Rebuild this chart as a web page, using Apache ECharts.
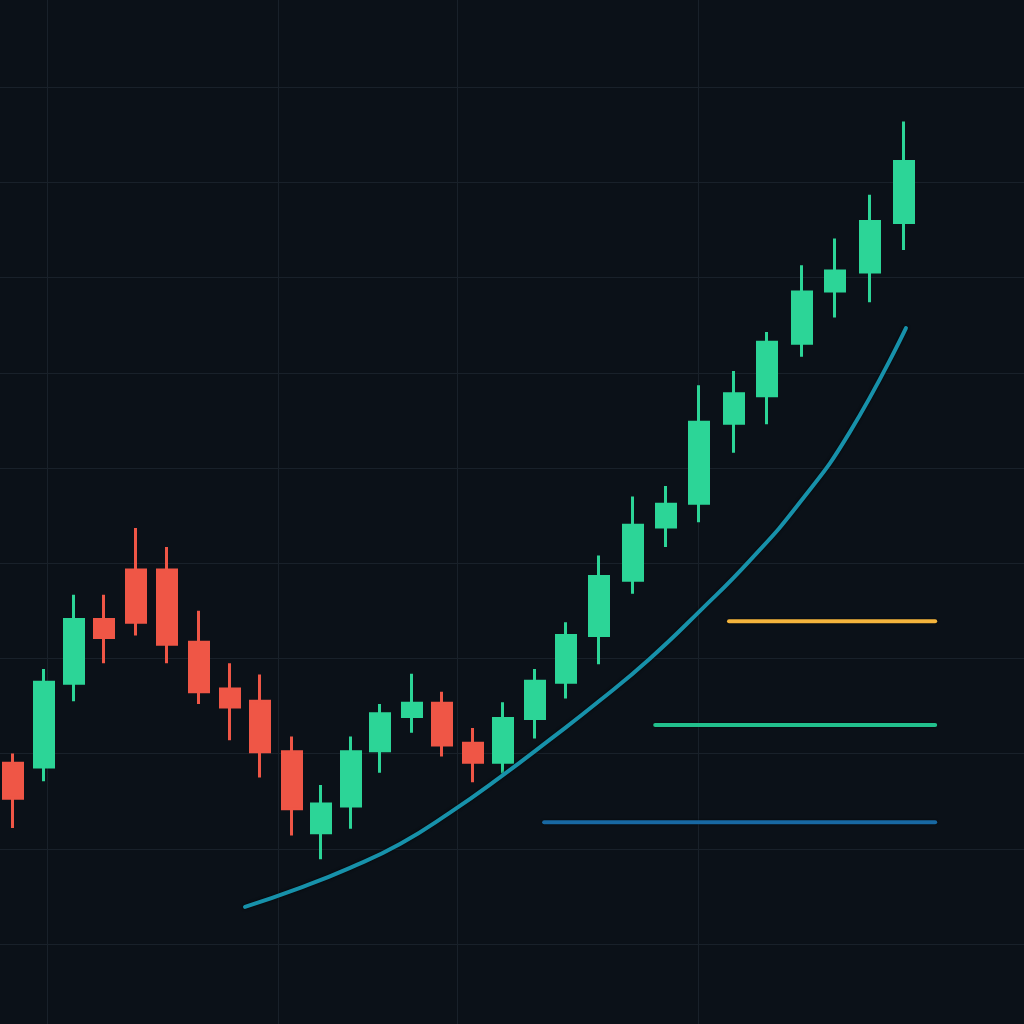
<!DOCTYPE html>
<html>
<head>
<meta charset="utf-8">
<script src="https://cdn.jsdelivr.net/npm/echarts@6/dist/echarts.min.js"></script>
<style>
html,body{margin:0;padding:0;background:#0b1118;}
#c{width:1024px;height:1024px;}
</style>
</head>
<body>
<div id="c"></div>
<script>
// candle positions (time units) and OHLC values
const candleX = [0,0.974,1.917,2.860,3.866,4.840,5.845,6.820,7.762,8.768,9.680,10.622,11.534,12.539,13.482,14.456,15.399,16.405,17.379,18.416,19.485,20.522,21.559,22.659,23.696,24.796,25.833,26.929,28.002];
const opens  = [119.0,118.6,127.4,134.1,139.3,139.3,131.7,126.8,125.5,120.2,111.7,114.5,120.3,123.9,125.3,121.1,119.1,123.7,127.5,132.4,138.2,143.8,146.3,154.7,157.6,163.1,168.6,170.6,175.8];
const closes = [115.3,127.5,134.1,132.2,133.8,131.5,126.5,124.9,120.2,114.2,114.7,120.2,124.2,125.3,120.9,119.1,123.7,127.6,132.4,138.6,144.0,146.2,154.8,157.8,163.2,168.5,170.7,175.9,182.2];
const lows   = [112.2,117.1,125.5,129.5,132.4,129.5,125.2,121.4,117.5,111.4,108.9,112.1,118.0,122.2,119.7,117.0,117.9,121.6,125.8,129.4,136.8,141.7,144.3,151.6,154.6,161.7,165.8,167.4,172.9];
const highs  = [120.0,128.9,136.7,136.7,143.7,141.7,135.0,129.5,128.3,121.8,116.7,121.8,125.2,128.4,126.5,122.7,125.4,128.9,133.8,140.8,147.0,148.1,158.7,160.2,164.3,171.3,174.1,178.7,186.4];

// trend curve
const curveX = [7.29,9.02,10.59,12.16,13.73,15.30,16.88,18.45,20.02,21.59,23.16,24.73,26.30,28.06];
const curveY = [103.9,105.9,108.0,110.5,113.8,117.5,121.5,125.6,130.0,135.0,140.3,146.4,153.8,164.7];

// horizontal levels: [price, startX, endX]
const levelOrange = [133.9, 22.50, 28.98];
const levelGreen  = [123.0, 20.18, 28.98];
const levelBlue   = [112.8, 16.69, 28.98];

// grid line positions
const vGrid = [1.07, 8.33, 13.95, 21.53];
const hGrid = [100, 110, 120, 130, 140, 150, 160, 170, 180, 190];

const candleData = candleX.map((x, i) => [x, opens[i], closes[i], lows[i], highs[i]]);
const curveData = curveX.map((x, i) => [x, curveY[i]]);
const lvl = l => [[l[1], l[0]], [l[2], l[0]]];

const chart = echarts.init(document.getElementById('c'), null, {renderer: 'canvas'});
chart.setOption({
  backgroundColor: '#0b1118',
  animation: false,
  grid: {left: 0, right: 0, top: 0, bottom: 0, containLabel: false},
  xAxis: {
    type: 'value', min: -0.409, max: 31.77,
    axisLine: {show: false}, axisLabel: {show: false},
    axisTick: {show: false, customValues: vGrid},
    splitLine: {show: true, lineStyle: {color: '#19212a', width: 1}}
  },
  yAxis: {
    type: 'value', min: 91.6, max: 199.16,
    axisLine: {show: false}, axisLabel: {show: false},
    axisTick: {show: false, customValues: hGrid},
    splitLine: {show: true, lineStyle: {color: '#19212a', width: 1}}
  },
  series: [
    {
      type: 'candlestick',
      data: candleData,
      encode: {x: 0, y: [1, 2, 3, 4]},
      barWidth: 20,
      itemStyle: {
        color: '#2cd597', color0: '#ef5646',
        borderColor: '#2cd597', borderColor0: '#ef5646',
        borderWidth: 3
      }
    },
    {
      type: 'line', data: curveData, smooth: 0.5, showSymbol: false,
      lineStyle: {color: '#1791aa', width: 4, cap: 'round', shadowColor: 'rgba(0,0,0,0.8)', shadowBlur: 3}
    },
    {
      type: 'line', data: lvl(levelOrange), showSymbol: false,
      lineStyle: {color: '#f4b43c', width: 4, cap: 'round', shadowColor: 'rgba(0,0,0,0.8)', shadowBlur: 2}
    },
    {
      type: 'line', data: lvl(levelGreen), showSymbol: false,
      lineStyle: {color: '#22c08c', width: 4, cap: 'round', shadowColor: 'rgba(0,0,0,0.8)', shadowBlur: 2}
    },
    {
      type: 'line', data: lvl(levelBlue), showSymbol: false,
      lineStyle: {color: '#1868a2', width: 4, cap: 'round', shadowColor: 'rgba(0,0,0,0.8)', shadowBlur: 2}
    }
  ]
});
</script>
</body>
</html>
